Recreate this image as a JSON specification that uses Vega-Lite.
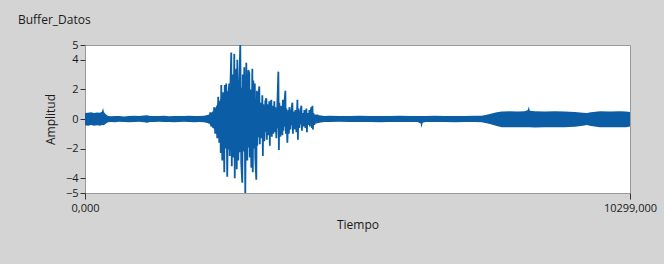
{
  "$schema": "https://vega.github.io/schema/vega-lite/v6.json",
  "width": 545,
  "height": 148,
  "autosize": {"type": "none"},
  "padding": {"left": 85, "top": 45, "right": 34, "bottom": 71},
  "background": "#d4d4d4",
  "title": {"text": "Buffer_Datos", "anchor": "start", "frame": "group", "dx": -67, "offset": 12, "fontSize": 12, "fontWeight": "normal", "font": "Open Sans", "color": "#1a1a1a"},
  "config": {
    "view": {"fill": "#ffffff", "stroke": "#9a9a9a", "strokeWidth": 1},
    "axis": {"labelFont": "Open Sans", "titleFont": "Open Sans", "labelFontSize": 11, "titleFontSize": 12, "titleFontWeight": "normal", "labelColor": "#1a1a1a", "titleColor": "#1a1a1a", "tickColor": "#333333", "domain": false, "grid": false, "labelOverlap": false},
    "axisY": {"labelOverlap": false, "labelBound": false}
  },
  "datasets": {
    "env": [
      {"t": 0, "lo": -0.42, "hi": 0.4},
      {"t": 57, "lo": -0.45, "hi": 0.42},
      {"t": 114, "lo": -0.4, "hi": 0.45},
      {"t": 170, "lo": -0.46, "hi": 0.4},
      {"t": 227, "lo": -0.42, "hi": 0.44},
      {"t": 284, "lo": -0.45, "hi": 0.42},
      {"t": 322, "lo": -0.4, "hi": 0.5},
      {"t": 341, "lo": -0.42, "hi": 0.75},
      {"t": 360, "lo": -0.4, "hi": 0.45},
      {"t": 398, "lo": -0.3, "hi": 0.3},
      {"t": 435, "lo": -0.22, "hi": 0.2},
      {"t": 492, "lo": -0.2, "hi": 0.18},
      {"t": 568, "lo": -0.22, "hi": 0.2},
      {"t": 644, "lo": -0.18, "hi": 0.2},
      {"t": 738, "lo": -0.2, "hi": 0.17},
      {"t": 833, "lo": -0.22, "hi": 0.2},
      {"t": 928, "lo": -0.2, "hi": 0.22},
      {"t": 1022, "lo": -0.18, "hi": 0.2},
      {"t": 1117, "lo": -0.22, "hi": 0.24},
      {"t": 1174, "lo": -0.25, "hi": 0.25},
      {"t": 1231, "lo": -0.2, "hi": 0.2},
      {"t": 1306, "lo": -0.2, "hi": 0.2},
      {"t": 1401, "lo": -0.18, "hi": 0.2},
      {"t": 1496, "lo": -0.2, "hi": 0.22},
      {"t": 1590, "lo": -0.2, "hi": 0.18},
      {"t": 1685, "lo": -0.22, "hi": 0.2},
      {"t": 1780, "lo": -0.2, "hi": 0.2},
      {"t": 1874, "lo": -0.19, "hi": 0.2},
      {"t": 1969, "lo": -0.2, "hi": 0.22},
      {"t": 2064, "lo": -0.22, "hi": 0.2},
      {"t": 2158, "lo": -0.2, "hi": 0.2},
      {"t": 2253, "lo": -0.22, "hi": 0.22},
      {"t": 2348, "lo": -0.3, "hi": 0.3},
      {"t": 2442, "lo": -0.7, "hi": 0.6},
      {"t": 2499, "lo": -1.1, "hi": 1.0},
      {"t": 2575, "lo": -1.6, "hi": 1.4},
      {"t": 2650, "lo": -1.9, "hi": 1.8},
      {"t": 2764, "lo": -2.2, "hi": 2.0},
      {"t": 2878, "lo": -2.3, "hi": 2.2},
      {"t": 2972, "lo": -2.2, "hi": 2.1},
      {"t": 3067, "lo": -2.0, "hi": 1.9},
      {"t": 3162, "lo": -1.7, "hi": 1.6},
      {"t": 3256, "lo": -1.3, "hi": 1.2},
      {"t": 3351, "lo": -1.0, "hi": 0.9},
      {"t": 3446, "lo": -0.8, "hi": 0.8},
      {"t": 3559, "lo": -0.7, "hi": 0.7},
      {"t": 3654, "lo": -0.6, "hi": 0.6},
      {"t": 3786, "lo": -0.5, "hi": 0.5},
      {"t": 3919, "lo": -0.4, "hi": 0.4},
      {"t": 4051, "lo": -0.35, "hi": 0.35},
      {"t": 4203, "lo": -0.3, "hi": 0.3},
      {"t": 4430, "lo": -0.25, "hi": 0.25},
      {"t": 4525, "lo": -0.2, "hi": 0.2},
      {"t": 4619, "lo": -0.2, "hi": 0.22},
      {"t": 4809, "lo": -0.18, "hi": 0.2},
      {"t": 4998, "lo": -0.2, "hi": 0.2},
      {"t": 5187, "lo": -0.2, "hi": 0.22},
      {"t": 5377, "lo": -0.2, "hi": 0.2},
      {"t": 5566, "lo": -0.22, "hi": 0.2},
      {"t": 5755, "lo": -0.2, "hi": 0.2},
      {"t": 5944, "lo": -0.2, "hi": 0.22},
      {"t": 6133, "lo": -0.2, "hi": 0.2},
      {"t": 6285, "lo": -0.2, "hi": 0.2},
      {"t": 6342, "lo": -0.3, "hi": 0.2},
      {"t": 6361, "lo": -0.6, "hi": 0.2},
      {"t": 6380, "lo": -0.25, "hi": 0.2},
      {"t": 6437, "lo": -0.2, "hi": 0.2},
      {"t": 6607, "lo": -0.2, "hi": 0.22},
      {"t": 6797, "lo": -0.2, "hi": 0.2},
      {"t": 6986, "lo": -0.22, "hi": 0.2},
      {"t": 7175, "lo": -0.2, "hi": 0.2},
      {"t": 7364, "lo": -0.2, "hi": 0.22},
      {"t": 7497, "lo": -0.22, "hi": 0.22},
      {"t": 7592, "lo": -0.28, "hi": 0.28},
      {"t": 7686, "lo": -0.38, "hi": 0.38},
      {"t": 7781, "lo": -0.48, "hi": 0.45},
      {"t": 7876, "lo": -0.55, "hi": 0.5},
      {"t": 8027, "lo": -0.55, "hi": 0.52},
      {"t": 8179, "lo": -0.56, "hi": 0.5},
      {"t": 8311, "lo": -0.55, "hi": 0.52},
      {"t": 8368, "lo": -0.55, "hi": 0.6},
      {"t": 8387, "lo": -0.55, "hi": 0.85},
      {"t": 8406, "lo": -0.55, "hi": 0.55},
      {"t": 8500, "lo": -0.57, "hi": 0.52},
      {"t": 8690, "lo": -0.55, "hi": 0.5},
      {"t": 8879, "lo": -0.56, "hi": 0.52},
      {"t": 9068, "lo": -0.55, "hi": 0.5},
      {"t": 9258, "lo": -0.52, "hi": 0.48},
      {"t": 9409, "lo": -0.45, "hi": 0.42},
      {"t": 9485, "lo": -0.4, "hi": 0.4},
      {"t": 9561, "lo": -0.48, "hi": 0.45},
      {"t": 9731, "lo": -0.56, "hi": 0.52},
      {"t": 9921, "lo": -0.55, "hi": 0.5},
      {"t": 10110, "lo": -0.56, "hi": 0.52},
      {"t": 10224, "lo": -0.55, "hi": 0.5},
      {"t": 10299, "lo": -0.5, "hi": 0.48}
    ],
    "burst": [
      {"t": 2253, "v": 0.15}, {"t": 2272, "v": -0.2}, {"t": 2291, "v": 0.2}, {"t": 2310, "v": -0.15},
      {"t": 2329, "v": 0.25}, {"t": 2348, "v": -0.3}, {"t": 2367, "v": 0.45}, {"t": 2385, "v": -0.5},
      {"t": 2404, "v": 0.3}, {"t": 2423, "v": -0.6}, {"t": 2442, "v": 0.8}, {"t": 2461, "v": -1.0},
      {"t": 2480, "v": 0.7}, {"t": 2499, "v": -1.3}, {"t": 2518, "v": 1.5}, {"t": 2537, "v": -1.6},
      {"t": 2556, "v": 1.2}, {"t": 2565, "v": -2.3}, {"t": 2575, "v": 2.3}, {"t": 2594, "v": -2.8},
      {"t": 2613, "v": 1.8}, {"t": 2632, "v": -3.6}, {"t": 2641, "v": 2.3}, {"t": 2650, "v": -2.0},
      {"t": 2669, "v": 2.4}, {"t": 2688, "v": -3.9}, {"t": 2707, "v": 1.6}, {"t": 2726, "v": 2.4},
      {"t": 2736, "v": -2.5}, {"t": 2745, "v": 1.8}, {"t": 2764, "v": 4.5}, {"t": 2774, "v": -3.2},
      {"t": 2783, "v": 3.0}, {"t": 2802, "v": -2.6}, {"t": 2821, "v": 4.4}, {"t": 2830, "v": -4.0},
      {"t": 2840, "v": 2.0}, {"t": 2859, "v": 3.4}, {"t": 2868, "v": -3.4}, {"t": 2878, "v": 4.0},
      {"t": 2897, "v": -2.8}, {"t": 2916, "v": 2.5}, {"t": 2934, "v": 5.0}, {"t": 2953, "v": -3.0},
      {"t": 2972, "v": -4.3}, {"t": 2982, "v": 3.0}, {"t": 2991, "v": -2.2}, {"t": 3010, "v": 3.5},
      {"t": 3029, "v": -5.0}, {"t": 3048, "v": 3.8}, {"t": 3067, "v": -2.8}, {"t": 3086, "v": 3.3},
      {"t": 3105, "v": 3.1}, {"t": 3114, "v": -2.6}, {"t": 3124, "v": 2.0}, {"t": 3143, "v": -3.3},
      {"t": 3162, "v": 3.4}, {"t": 3171, "v": -3.6}, {"t": 3181, "v": 2.6}, {"t": 3200, "v": -2.0},
      {"t": 3209, "v": 2.4}, {"t": 3218, "v": -2.6}, {"t": 3237, "v": -4.1}, {"t": 3247, "v": 1.9},
      {"t": 3256, "v": -1.8}, {"t": 3275, "v": 1.5}, {"t": 3294, "v": 2.2}, {"t": 3304, "v": -1.7},
      {"t": 3313, "v": 1.1}, {"t": 3332, "v": -1.3}, {"t": 3351, "v": 1.6}, {"t": 3361, "v": -2.5},
      {"t": 3370, "v": 1.0}, {"t": 3389, "v": -1.5}, {"t": 3408, "v": 1.2}, {"t": 3427, "v": 1.4},
      {"t": 3436, "v": -1.4}, {"t": 3446, "v": 1.0}, {"t": 3465, "v": -1.1}, {"t": 3483, "v": 1.2},
      {"t": 3493, "v": -1.8}, {"t": 3502, "v": 0.8}, {"t": 3521, "v": 1.3}, {"t": 3531, "v": -1.2},
      {"t": 3540, "v": 0.9}, {"t": 3559, "v": -1.0}, {"t": 3578, "v": 1.2}, {"t": 3588, "v": -0.9},
      {"t": 3597, "v": 0.8}, {"t": 3616, "v": -1.3}, {"t": 3635, "v": 1.0}, {"t": 3654, "v": 3.2},
      {"t": 3664, "v": -2.1}, {"t": 3673, "v": 1.1}, {"t": 3692, "v": -1.2}, {"t": 3711, "v": 0.9},
      {"t": 3730, "v": -1.1}, {"t": 3739, "v": 1.3}, {"t": 3749, "v": -0.8}, {"t": 3767, "v": 1.0},
      {"t": 3786, "v": 1.9}, {"t": 3796, "v": -1.0}, {"t": 3805, "v": 0.7}, {"t": 3824, "v": -1.6},
      {"t": 3843, "v": 0.6}, {"t": 3853, "v": -1.0}, {"t": 3862, "v": 0.8}, {"t": 3881, "v": -0.7},
      {"t": 3900, "v": 0.6}, {"t": 3919, "v": 1.1}, {"t": 3929, "v": -1.0}, {"t": 3938, "v": 0.5},
      {"t": 3957, "v": -0.7}, {"t": 3976, "v": 0.6}, {"t": 3995, "v": -0.9}, {"t": 4014, "v": 1.3},
      {"t": 4023, "v": -1.4}, {"t": 4033, "v": 0.7}, {"t": 4051, "v": -0.6}, {"t": 4070, "v": 0.5},
      {"t": 4089, "v": 0.9}, {"t": 4099, "v": -0.8}, {"t": 4108, "v": 0.4}, {"t": 4127, "v": -0.5},
      {"t": 4146, "v": 0.6}, {"t": 4165, "v": -0.6}, {"t": 4184, "v": 0.7}, {"t": 4194, "v": -0.9},
      {"t": 4203, "v": 0.4}, {"t": 4222, "v": -0.4}, {"t": 4241, "v": 0.6}, {"t": 4250, "v": -0.5},
      {"t": 4260, "v": 0.5}, {"t": 4279, "v": 0.8}, {"t": 4288, "v": -0.6}, {"t": 4298, "v": 0.9},
      {"t": 4307, "v": -0.7}, {"t": 4316, "v": 0.4}, {"t": 4335, "v": -0.4}, {"t": 4354, "v": 0.3},
      {"t": 4373, "v": -0.3}, {"t": 4392, "v": 0.3}, {"t": 4411, "v": -0.25}, {"t": 4430, "v": 0.2}
    ]
  },
  "encoding": {
    "x": {"field": "t", "type": "quantitative", "scale": {"domain": [0, 10299], "nice": false, "zero": false},
      "axis": {"title": "Tiempo", "values": [0, 10299], "labelExpr": "replace(format(datum.value, '.3f'), '.', ',')", "tickSize": 6, "labelPadding": 3, "titlePadding": 6, "labelFlush": false}}
  },
  "layer": [
    {
      "data": {"name": "env"},
      "mark": {"type": "area", "color": "#0b5ea6", "opacity": 1},
      "encoding": {
        "y": {"field": "lo", "type": "quantitative", "scale": {"domain": [-5, 5], "nice": false},
          "axis": {"title": "Amplitud", "values": [-5, -4, -2, 0, 2, 4, 5], "format": "d", "tickCount": 20, "tickSize": 5, "labelPadding": 2, "titlePadding": 8, "labelOverlap": false, "labelBound": false}},
        "y2": {"field": "hi"}
      }
    },
    {
      "data": {"name": "burst"},
      "mark": {"type": "line", "color": "#0b5ea6", "strokeWidth": 1.8, "clip": true},
      "encoding": {
        "y": {"field": "v", "type": "quantitative", "scale": {"domain": [-5, 5], "nice": false},
          "axis": {"title": "Amplitud", "values": [-5, -4, -2, 0, 2, 4, 5], "format": "d", "tickCount": 20, "tickSize": 5, "labelPadding": 2, "titlePadding": 8, "labelOverlap": false, "labelBound": false}}
      }
    }
  ]
}
